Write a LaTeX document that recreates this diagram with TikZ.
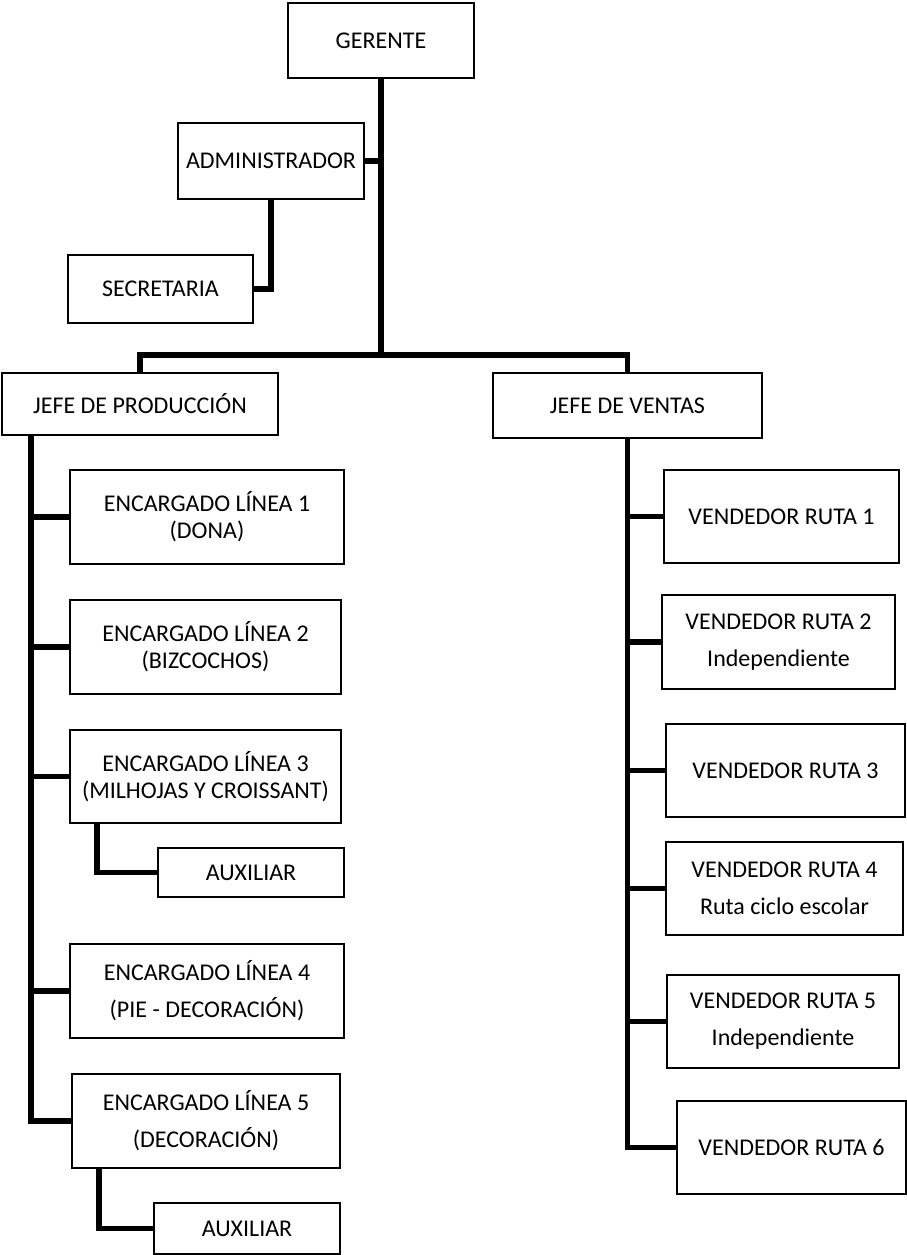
\documentclass[tikz,border=0pt]{standalone}
\usepackage{fontspec}
\setmainfont{Carlito}
\begin{document}
\begin{tikzpicture}[x=1pt, y=-1pt]

      \tikzset{cargo/.style={draw, rectangle, line width=2.2pt, inner sep=0pt, align=center, font=\fontsize{24}{27}\selectfont},
               conn/.style={line width=5.5pt}}
      \useasboundingbox (0,0) rectangle (907,1255);
%% Boxes
      	\node[cargo, minimum width=186, minimum height=75] (ger) at (381,40.5) {GERENTE};
      	\node[cargo, minimum width=186, minimum height=76] (adm) at (271,161) {ADMINISTRADOR};
      	\node[cargo, minimum width=185, minimum height=68] (sec) at (160.5,289) {SECRETARIA};
      	\node[cargo, minimum width=276, minimum height=62] (jp) at (140,404) {JEFE DE PRODUCCIÓN};
      	\node[cargo, minimum width=269, minimum height=65] (jv) at (627.5,405.5) {JEFE DE VENTAS};
      	\node[cargo, minimum width=274, minimum height=94] (enc1) at (207,517) {ENCARGADO LÍNEA 1\\(DONA)};
      	\node[cargo, minimum width=271, minimum height=94] (enc2) at (205.5,647) {ENCARGADO LÍNEA 2\\(BIZCOCHOS)};
      	\node[cargo, minimum width=271, minimum height=93] (enc3) at (205.5,776.5) {ENCARGADO LÍNEA 3\\(MILHOJAS Y CROISSANT)};
      	\node[cargo, minimum width=186, minimum height=49] (aux1) at (251,872.5) {AUXILIAR};
      	\node[cargo, minimum width=274, minimum height=94] (enc4) at (207,991) {ENCARGADO LÍNEA 4\\[10pt](PIE - DECORACIÓN)};
      	\node[cargo, minimum width=268, minimum height=94] (enc5) at (206,1121) {ENCARGADO LÍNEA 5\\[10pt](DECORACIÓN)};
      	\node[cargo, minimum width=186, minimum height=51] (aux2) at (247,1228.5) {AUXILIAR};
      	\node[cargo, minimum width=235, minimum height=93] (vr1) at (781.5,516.5) {VENDEDOR RUTA 1};
      	\node[cargo, minimum width=233, minimum height=94] (vr2) at (778.5,642) {VENDEDOR RUTA 2\\[10pt]Independiente};
      	\node[cargo, minimum width=239, minimum height=93] (vr3) at (785.5,770.5) {VENDEDOR RUTA 3};
      	\node[cargo, minimum width=237, minimum height=93] (vr4) at (784.5,888.5) {VENDEDOR RUTA 4\\[10pt]Ruta ciclo escolar};
      	\node[cargo, minimum width=232, minimum height=93] (vr5) at (783,1021.5) {VENDEDOR RUTA 5\\[10pt]Independiente};
      	\node[cargo, minimum width=229, minimum height=93] (vr6) at (791.5,1147.5) {VENDEDOR RUTA 6};
      	\coordinate (bus) at (381,355);
%Connectors
		\draw [conn] (ger.south) -- (bus);
		\draw [conn] (adm.east) -- (adm.east -| ger.south);
		\draw [conn] (adm.south) |- (sec.east);
		\draw [conn] (jp.north) |- (bus);
		\draw [conn] (jv.north) |- (bus);
		\draw [conn] ([xshift=30pt]jp.south west) |- (enc1.west);
		\draw [conn] ([xshift=30pt]jp.south west) |- (enc2.west);
		\draw [conn] ([xshift=30pt]jp.south west) |- (enc3.west);
		\draw [conn] ([xshift=30pt]jp.south west) |- (enc4.west);
		\draw [conn] ([xshift=30pt]jp.south west) |- (enc5.west);
		\draw [conn] ([xshift=28pt]enc3.south west) |- (aux1.west);
		\draw [conn] ([xshift=28pt]enc5.south west) |- (aux2.west);
		\draw [conn] (jv.south) |- (vr1.west);
		\draw [conn] (jv.south) |- (vr2.west);
		\draw [conn] (jv.south) |- (vr3.west);
		\draw [conn] (jv.south) |- (vr4.west);
		\draw [conn] (jv.south) |- (vr5.west);
		\draw [conn] (jv.south) |- (vr6.west);

	\end{tikzpicture}
\end{document}
